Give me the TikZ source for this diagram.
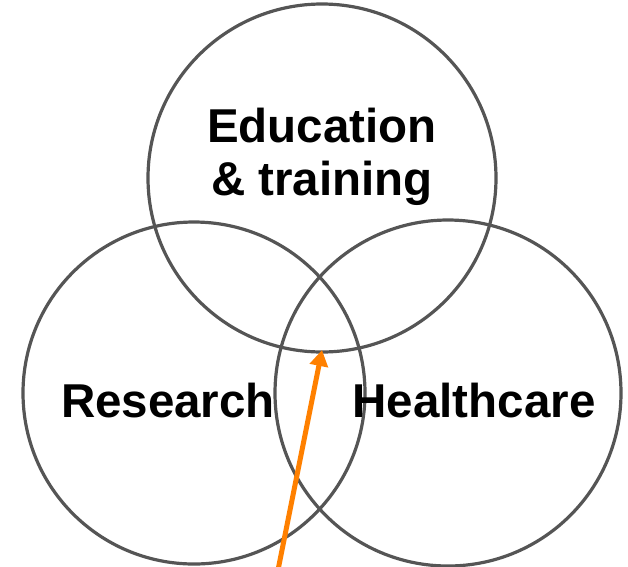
\documentclass[tikz,border=0pt]{standalone}
\usepackage{fontspec}
\setmainfont{Liberation Sans}
\usetikzlibrary{arrows.meta}
\definecolor{ringgray}{HTML}{555555}
\definecolor{arroworange}{HTML}{FF8000}
\begin{document}
\begin{tikzpicture}[x=1pt,y=-1pt,
  ring/.style={draw=ringgray,line width=3.2pt},
  lbl/.style={font=\fontsize{47.5}{53}\selectfont\bfseries,align=center,inner sep=0pt},
  pointer/.style={draw=arroworange,line width=5pt,-{Triangle[length=16pt,width=18pt]}}]
\useasboundingbox (0,0) rectangle (628,566);
\draw[ring] (322,178) circle (174);
\draw[ring] (194,393) circle (171);
\draw[ring] (448,393) circle (173);
\node[lbl] (edu) at (322,157) {Education\\\& training};
\node[lbl] (res) at (168,401) {Research};
\node[lbl] (hea) at (474,401) {Healthcare};
\coordinate (start) at (278,570);
\coordinate (tip) at (322,350);
\draw[pointer] (start) -- (tip);
\end{tikzpicture}
\end{document}
